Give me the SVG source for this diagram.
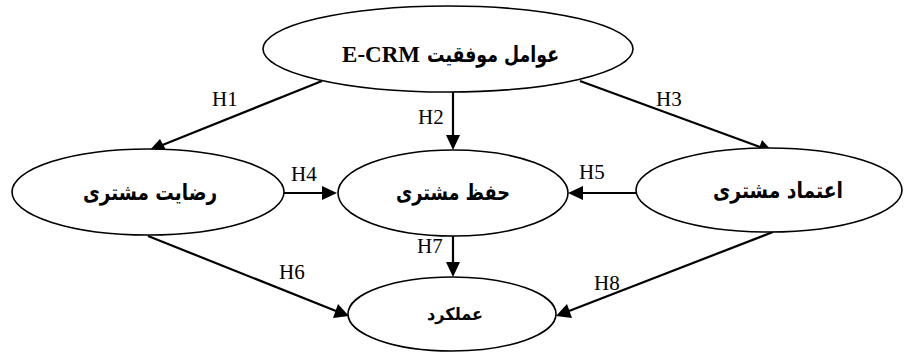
<svg xmlns="http://www.w3.org/2000/svg" width="904" height="354" viewBox="0 0 904 354">
<style>
.node ellipse{fill:#fff;stroke:#000;stroke-width:1.6}
.fa{font-family:"DejaVu Sans",sans-serif;font-weight:bold;font-size:22px;text-anchor:middle;fill:#000}
.en{font-family:"Liberation Serif",serif;font-weight:bold;font-size:23px;fill:#000;text-anchor:end}
.lbl{font-family:"Liberation Serif",serif;font-size:21px;fill:#000}
.edges line{stroke:#000;stroke-width:2.2}
.edges polygon{fill:#000}
</style>
<rect width="904" height="354" fill="#fff"/>
<g class="edges">
<line x1="322" y1="81" x2="160" y2="146"/>
<polygon points="148,152 160,139 166,150"/>
<line x1="453" y1="92" x2="453" y2="136"/>
<polygon points="453,150 446,135 460,135"/>
<line x1="580" y1="81" x2="760" y2="147"/>
<polygon points="773,152 757,154 762,140"/>
<line x1="283" y1="193" x2="323" y2="193"/>
<polygon points="337,193 322,186 322,200"/>
<line x1="636" y1="193" x2="583" y2="193"/>
<polygon points="568,193 583,186 583,200"/>
<line x1="148" y1="236" x2="336" y2="311"/>
<polygon points="349,316 333,318 338,304"/>
<line x1="453" y1="235" x2="453" y2="263"/>
<polygon points="453,277 446,262 460,262"/>
<line x1="773" y1="232" x2="569" y2="311"/>
<polygon points="556,316 567,304 572,318"/>
</g>
<g id="n-ecrm" class="node">
<ellipse cx="448" cy="49" rx="185" ry="43"/>
<text class="en" x="420" y="62">E-CRM</text>
<text class="fa" x="493" y="62" textLength="132" lengthAdjust="spacingAndGlyphs">عوامل موفقیت</text>
</g>
<g id="n-satisfaction" class="node">
<ellipse cx="148" cy="192" rx="136" ry="43"/>
<text class="fa" x="150" y="200" textLength="134" lengthAdjust="spacingAndGlyphs">رضایت مشتری</text>
</g>
<g id="n-retention" class="node">
<ellipse cx="453" cy="193" rx="115" ry="43"/>
<text class="fa" x="453" y="200" textLength="114" lengthAdjust="spacingAndGlyphs">حفظ مشتری</text>
</g>
<g id="n-trust" class="node">
<ellipse cx="769" cy="190" rx="133" ry="42"/>
<text class="fa" x="778" y="198" textLength="130" lengthAdjust="spacingAndGlyphs">اعتماد مشتری</text>
</g>
<g id="n-performance" class="node">
<ellipse cx="452" cy="314" rx="104" ry="37"/>
<text class="fa" x="455" y="320" style="font-size:17px" textLength="56" lengthAdjust="spacingAndGlyphs">عملکرد</text>
</g>
<g id="labels">
<text class="lbl" x="212" y="106">H1</text>
<text class="lbl" x="418" y="124">H2</text>
<text class="lbl" x="656" y="106">H3</text>
<text class="lbl" x="291" y="181">H4</text>
<text class="lbl" x="579" y="179">H5</text>
<text class="lbl" x="279" y="279">H6</text>
<text class="lbl" x="417" y="253">H7</text>
<text class="lbl" x="594" y="290">H8</text>
</g>
</svg>
